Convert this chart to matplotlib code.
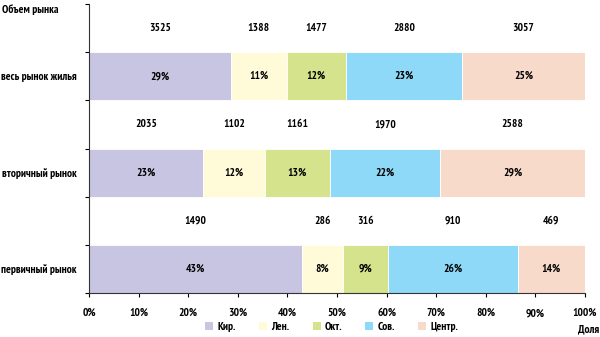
import matplotlib
matplotlib.use("Agg")
import matplotlib.pyplot as plt
import numpy as np

plt.rcParams['font.family'] = ['PT Sans Narrow', 'DejaVu Sans']

districts = ["Кир.", "Лен.", "Окт.", "Сов.", "Центр."]
colors = ["#C8C5E2", "#FFFBD8", "#D4E38C", "#8ED8F8", "#F7DAC9"]
markets = ["весь рынок жилья", "вторичный рынок", "первичный рынок"]
volumes = {
    "весь рынок жилья": [3525, 1388, 1477, 2880, 3057],
    "вторичный рынок": [2035, 1102, 1161, 1970, 2588],
    "первичный рынок": [1490, 286, 316, 910, 469],
}
xticks = [0, 10, 20, 30, 40, 50, 60, 70, 80, 90, 100]

fig = plt.figure(figsize=(6.0, 3.37), dpi=100)
ax = fig.add_axes([89/600, 1-293/337, (585-89)/600, (293-4)/337])

fs = 8.2
fkw = dict(fontsize=fs, fontweight="bold")
ypos_bar = [4, 2, 0]
for m, yb in zip(markets, ypos_bar):
    vals = np.array(volumes[m], dtype=float)
    shares = vals / vals.sum() * 100
    left = 0.0
    for i, (s, v) in enumerate(zip(shares, vals)):
        ax.barh(yb, s, left=left, height=1.0, color=colors[i], edgecolor="white",
                linewidth=0.6, label=districts[i] if m == markets[0] else None)
        cx = left + s / 2
        ax.text(cx, yb, f"{int(round(s))}%", ha="center", va="center", **fkw)
        ax.text(cx, yb + 1, f"{int(v)}", ha="center", va="center", **fkw)
        left += s

ax.set_xlim(0, 100)
ax.set_ylim(-0.5, 5.5)
ax.set_yticks(ypos_bar)
ax.set_yticklabels(markets, **fkw)
ax.set_yticks(np.arange(-0.5, 6.0, 1.0), minor=True)
ax.tick_params(axis="y", which="major", length=0, pad=9)
ax.tick_params(axis="y", which="minor", length=3, width=0.8, direction="out")
ax.set_xticks(xticks)
ax.set_xticklabels([f"{t}%" for t in xticks], **fkw)
ax.tick_params(axis="x", length=3, width=0.8, direction="out", pad=8)
for s in ["top", "right"]:
    ax.spines[s].set_visible(False)
for s in ["left", "bottom"]:
    ax.spines[s].set_linewidth(0.8)
    ax.spines[s].set_color("#333333")

fig.text(2/600, 1-10/337, "Объем рынка", ha="left", va="center", **fkw)
fig.text(599/600, 1-329/337, "Доля", ha="right", va="center", **fkw)

leg = fig.legend(loc="center", bbox_to_anchor=(332/600, 1-327/337), ncol=5,
                 frameon=False, prop=dict(size=fs, weight="bold"),
                 handlelength=0.7, handleheight=0.7,
                 handletextpad=0.4, columnspacing=2.0, borderpad=0)
for h in leg.legend_handles:
    h.set_edgecolor("none")

fig.savefig("out.png", dpi=100)
